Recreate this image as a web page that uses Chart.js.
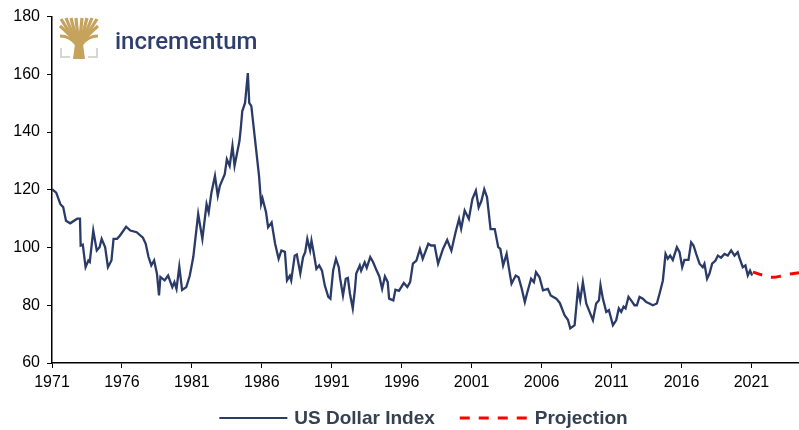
<!DOCTYPE html>
<html>
<head>
<meta charset="utf-8">
<script src="https://cdn.jsdelivr.net/npm/chart.js@4.4.1/dist/chart.umd.min.js"></script>
<style>
  html, body { margin: 0; padding: 0; background: #fff; }
  #wrap { width: 799px; height: 430px; }
</style>
</head>
<body>
<div id="wrap"><canvas id="chart" width="799" height="430"></canvas></div>
<script>
// US Dollar Index (decimal years)
const usdYears = [
  1971.0, 1971.3, 1971.6, 1971.8, 1972.0, 1972.3, 1972.8, 1973.0, 1973.05, 1973.2,
  1973.4, 1973.6, 1973.7, 1973.95, 1974.2, 1974.4, 1974.55, 1974.8, 1975.0, 1975.25,
  1975.4, 1975.65, 1975.85, 1976.3, 1976.6, 1977.05, 1977.5, 1977.7, 1977.9, 1978.1,
  1978.3, 1978.5, 1978.65, 1978.75, 1979.05, 1979.3, 1979.6, 1979.75, 1979.9, 1980.1,
  1980.3, 1980.6, 1980.85, 1981.1, 1981.45, 1981.75, 1982.05, 1982.2, 1982.4, 1982.65,
  1982.85, 1983.0, 1983.35, 1983.5, 1983.7, 1983.9, 1984.05, 1984.4, 1984.5, 1984.6,
  1984.8, 1985.0, 1985.1, 1985.25, 1985.5, 1985.8, 1985.95, 1986.05, 1986.3, 1986.45,
  1986.7, 1986.95, 1987.2, 1987.4, 1987.65, 1987.8, 1988.0, 1988.1, 1988.35, 1988.5,
  1988.75, 1988.95, 1989.1, 1989.25, 1989.45, 1989.55, 1989.7, 1989.9, 1990.1, 1990.3,
  1990.5, 1990.75, 1990.9, 1991.1, 1991.3, 1991.5, 1991.6, 1991.8, 1992.0, 1992.15,
  1992.3, 1992.5, 1992.65, 1992.75, 1993.0, 1993.1, 1993.35, 1993.5, 1993.75, 1993.95,
  1994.2, 1994.4, 1994.6, 1994.8, 1995.0, 1995.1, 1995.4, 1995.55, 1995.8, 1996.15,
  1996.4, 1996.6, 1996.8, 1997.05, 1997.3, 1997.5, 1997.9, 1998.1, 1998.35, 1998.6,
  1998.95, 1999.25, 1999.55, 1999.85, 2000.1, 2000.25, 2000.5, 2000.8, 2001.05, 2001.3,
  2001.5, 2001.7, 2001.9, 2002.1, 2002.35, 2002.65, 2002.9, 2003.05, 2003.25, 2003.5,
  2003.65, 2003.85, 2004.15, 2004.35, 2004.55, 2004.8, 2004.95, 2005.25, 2005.45, 2005.6,
  2005.85, 2006.1, 2006.45, 2006.65, 2007.05, 2007.3, 2007.64, 2007.88, 2008.05, 2008.36,
  2008.6, 2008.76, 2008.95, 2009.19, 2009.43, 2009.67, 2009.9, 2010.1, 2010.21, 2010.38,
  2010.62, 2010.81, 2011.1, 2011.33, 2011.52, 2011.69, 2011.86, 2012.0, 2012.21, 2012.4,
  2012.64, 2012.81, 2013.0, 2013.24, 2013.48, 2013.71, 2013.95, 2014.24, 2014.43, 2014.67,
  2014.86, 2015.02, 2015.19, 2015.38, 2015.67, 2015.86, 2016.05, 2016.21, 2016.5, 2016.69,
  2016.86, 2017.05, 2017.29, 2017.52, 2017.64, 2017.83, 2018.0, 2018.19, 2018.43, 2018.6,
  2018.83, 2019.07, 2019.31, 2019.55, 2019.79, 2020.02, 2020.14, 2020.38, 2020.57, 2020.74,
  2020.9, 2021.05
];
const usdValues = [
  120.2, 119, 115, 114, 109.3, 108.4, 110, 110, 100.7, 101,
  93.2, 95.5, 95, 105.9, 99, 100.1, 103, 100.1, 93.2, 95.5,
  103, 103, 104.1, 107.2, 105.9, 105.3, 103.4, 101.3, 96.7, 93.8,
  95.5, 91, 83.4, 89.8, 88.6, 90.3, 86.3, 88, 85.7, 93.4,
  85.3, 86.3, 90.3, 96.7, 111.6, 103, 115, 112.2, 119.1, 124.8,
  117.9, 121.4, 125.4, 130.6, 128.3, 135.2, 128.3, 136.9, 141.5, 147.2,
  150.1, 160.4, 150.1, 149, 138, 124.8, 115.1, 117, 112.2, 107,
  108.7, 101.3, 96.1, 99, 98.5, 88.6, 90.2, 88.6, 97.2, 97.6,
  91, 96.7, 98.4, 103, 99, 102.4, 98.4, 92.6, 93.8, 92,
  86.9, 82.9, 82.3, 92.1, 96.1, 93.2, 89.2, 83.4, 89.2, 89.5,
  84, 78.9, 85.2, 91, 93.8, 92, 94.9, 93, 96.7, 95,
  92.1, 90, 85.7, 90, 88, 82.3, 81.7, 85.4, 85, 87.7,
  86.3, 88, 94.4, 95.5, 99.5, 96.1, 101.3, 100.7, 100.7, 94.4,
  99.5, 102.6, 98.9, 105.3, 109.9, 106.5, 112.8, 109.9, 116.8, 119.7,
  113.9, 116.2, 120.2, 117.4, 106.4, 106.4, 100.1, 99.5, 93.8, 97.8,
  93.2, 87.5, 90.3, 89.7, 86.3, 81.1, 84, 89.2, 88, 91.5,
  89.7, 85.2, 85.7, 83.4, 82.3, 80.8, 76.6, 75, 72, 73.1,
  85.7, 81.7, 88, 80.6, 77.7, 74.8, 80.6, 81.7, 86.9, 82.3,
  77.7, 78.3, 73.1, 74.8, 78.9, 77.7, 79.5, 78.9, 82.9, 81.7,
  80, 80, 82.9, 82.3, 81.1, 80.6, 80, 80.6, 84, 88.6,
  97.8, 96.1, 97.2, 95.7, 100.1, 98.4, 93.2, 95.7, 95.7, 101.8,
  100.7, 97.8, 94.4, 93.2, 94.4, 89.2, 91, 94.4, 95.5, 97.2,
  96.5, 97.8, 97.2, 99, 97.2, 98.4, 96.5, 93.2, 93.8, 90.3,
  92, 90.3
];

// Projection (red dashed)
const projYears = [2021.1, 2021.9, 2022.5, 2023.2, 2023.7, 2024.4];
const projValues = [91.5, 90.3, 89.7, 90.2, 90.8, 91.3];

const xTickYears = [1971, 1976, 1981, 1986, 1991, 1996, 2001, 2006, 2011, 2016, 2021];
const yTicks = [60, 80, 100, 120, 140, 160, 180];

const usdPoints = usdYears.map((x, i) => ({ x: x, y: usdValues[i] }));
const projPoints = projYears.map((x, i) => ({ x: x, y: projValues[i] }));

const tickFont = { family: 'Liberation Sans, Arial', size: 16 };

// incrementum logo in the top-left corner
const logoPlugin = {
  id: 'logo',
  afterDraw(chart) {
    const ctx = chart.ctx;
    ctx.save();
    // grey base bracket
    ctx.strokeStyle = '#d6d6d6';
    ctx.lineWidth = 2;
    ctx.beginPath();
    ctx.moveTo(61, 48); ctx.lineTo(61, 57); ctx.lineTo(70, 57);
    ctx.moveTo(88, 57); ctx.lineTo(97, 57); ctx.lineTo(97, 48);
    ctx.stroke();
    // gold tree
    ctx.fillStyle = '#c6a35c';
    ctx.strokeStyle = '#c6a35c';
    ctx.beginPath();
    ctx.moveTo(73, 59); ctx.lineTo(75, 44); ctx.lineTo(83, 44); ctx.lineTo(85, 59);
    ctx.closePath();
    ctx.fill();
    ctx.lineWidth = 3.2;
    ctx.lineCap = 'butt';
    const tips = [[60, 26], [61, 19], [66, 18], [71, 18], [76, 18], [82, 18], [87, 18], [92, 18], [97, 19], [98, 26]];
    tips.forEach(t => {
      ctx.beginPath();
      ctx.moveTo(79, 46);
      ctx.quadraticCurveTo((79 + t[0]) / 2, 34, t[0], t[1]);
      ctx.stroke();
    });
    ctx.beginPath();
    ctx.moveTo(60, 36); ctx.quadraticCurveTo(70, 36, 77, 45);
    ctx.moveTo(98, 36); ctx.quadraticCurveTo(88, 36, 81, 45);
    ctx.stroke();
    ctx.fillStyle = '#2e3f6e';
    ctx.font = '500 24px Roboto';
    ctx.textBaseline = 'alphabetic';
    ctx.fillText('incrementum', 115, 49);
    ctx.restore();
  }
};

// legend below the plot, centred on the plot area
const legendPlugin = {
  id: 'bottomLegend',
  afterDraw(chart) {
    const ctx = chart.ctx;
    const area = chart.chartArea;
    const sample = 68, gapText = 7, gapItem = 25;
    ctx.save();
    ctx.font = 'bold 19px Liberation Sans, Arial';
    ctx.textBaseline = 'middle';
    const items = chart.data.datasets.map(ds => ({
      text: ds.label,
      color: ds.borderColor,
      dash: ds.borderDash || [],
      width: ctx.measureText(ds.label).width
    }));
    let total = 0;
    items.forEach((it, i) => { total += sample + gapText + it.width + (i ? gapItem : 0); });
    let x = (area.left + area.right) / 2 - total / 2 - 2;
    const y = 418;
    items.forEach((it, i) => {
      if (i) x += gapItem;
      ctx.strokeStyle = it.color;
      ctx.lineWidth = it.dash.length ? 3 : 2;
      ctx.setLineDash(it.dash);
      ctx.beginPath();
      ctx.moveTo(x, y);
      ctx.lineTo(x + sample, y);
      ctx.stroke();
      ctx.setLineDash([]);
      x += sample + gapText;
      ctx.fillStyle = '#354050';
      ctx.fillText(it.text, x, y + 1);
      x += it.width;
    });
    ctx.restore();
  }
};

const ctx = document.getElementById('chart').getContext('2d');
new Chart(ctx, {
  type: 'line',
  data: {
    datasets: [
      {
        label: 'US Dollar Index',
        data: usdPoints,
        borderColor: '#2b3b68',
        borderWidth: 2.3,
        tension: 0,
        pointRadius: 0,
        fill: false
      },
      {
        label: 'Projection',
        data: projPoints,
        borderColor: '#ff0000',
        borderWidth: 3,
        borderDash: [10, 9],
        tension: 0.4,
        pointRadius: 0,
        fill: false
      }
    ]
  },
  options: {
    responsive: false,
    animation: false,
    layout: {
      padding: { top: 9, right: 0, left: 0, bottom: 37 }
    },
    plugins: {
      tooltip: { enabled: false },
      legend: { display: false }
    },
    scales: {
      x: {
        type: 'linear',
        min: 1971,
        max: 2024.4,
        afterBuildTicks: (axis) => {
          axis.ticks = xTickYears.map(v => ({ value: v }));
        },
        afterFit: (axis) => { axis.height = 30; },
        ticks: {
          callback: (value) => String(value),
          autoSkip: false,
          maxRotation: 0,
          padding: 5,
          color: '#000',
          font: tickFont
        },
        grid: {
          drawOnChartArea: false,
          drawTicks: true,
          tickLength: 5,
          color: '#000'
        },
        border: { display: true, color: '#000', width: 1.5 }
      },
      y: {
        min: 60,
        max: 180,
        afterBuildTicks: (axis) => {
          axis.ticks = yTicks.map(v => ({ value: v }));
        },
        afterFit: (axis) => { axis.width = 52; },
        ticks: {
          padding: 7,
          color: '#000',
          font: tickFont
        },
        grid: {
          drawOnChartArea: false,
          drawTicks: true,
          tickLength: 5,
          color: '#000'
        },
        border: { display: true, color: '#000', width: 1.5 }
      }
    }
  },
  plugins: [logoPlugin, legendPlugin]
});
</script>
</body>
</html>
